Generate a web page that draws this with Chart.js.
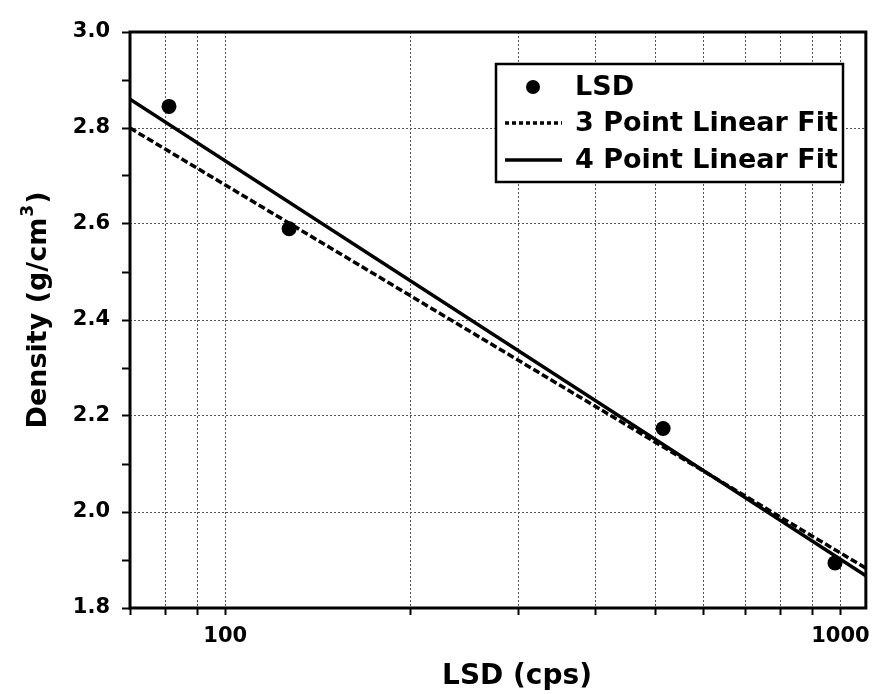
<!DOCTYPE html>
<html>
<head>
<meta charset="utf-8">
<title>Density vs LSD</title>
<script src="https://cdn.jsdelivr.net/npm/chart.js@4.4.1/dist/chart.umd.min.js"></script>
<style>
  html, body { margin: 0; padding: 0; background: #ffffff; }
  #wrap { width: 879px; height: 694px; }
</style>
</head>
<body>
<div id="wrap"><canvas id="chart" width="879" height="694"></canvas></div>
<script>
// Measured LSD count rates (cps) and densities (g/cm^3)
const lsdCps = [81, 127, 515, 980];
const lsdDensity = [2.845, 2.59, 2.174, 1.894];

// Fit lines, evaluated at the ends of the x range
const fitCps = [70, 1100];
const fit3Density = [2.80, 1.883];
const fit4Density = [2.86, 1.867];

// Axis ticks
const xGridValues = [70, 80, 90, 100, 200, 300, 400, 500, 600, 700, 800, 900, 1000];
const xTickLabels = [100, 1000];
const yMajorTicks = [1.8, 2.0, 2.2, 2.4, 2.6, 2.8, 3.0];
const yMinorTicks = [1.9, 2.1, 2.3, 2.5, 2.7, 2.9];

const seriesLabels = ['LSD', '3 Point Linear Fit', '4 Point Linear Fit'];

const FONT = "'DejaVu Sans', 'Liberation Sans', sans-serif";

const isMajorY = v => yMajorTicks.some(t => Math.abs(t - v) < 1e-6);

// Frame, axis titles and the boxed legend
const decorations = {
  id: 'decorations',
  afterDraw(chart) {
    const { ctx, chartArea: a } = chart;
    ctx.save();

    // plot frame
    ctx.strokeStyle = '#000';
    ctx.lineWidth = 3;
    ctx.setLineDash([]);
    ctx.strokeRect(a.left, a.top, a.right - a.left, a.bottom - a.top);

    // x axis title
    ctx.fillStyle = '#000';
    ctx.font = `bold 28px ${FONT}`;
    ctx.textAlign = 'center';
    ctx.textBaseline = 'middle';
    ctx.fillText('LSD (cps)', 517, 677);

    // y axis title with superscript
    ctx.save();
    ctx.translate(36, 310);
    ctx.rotate(-Math.PI / 2);
    const mainFont = `bold 27px ${FONT}`;
    const supFont = `bold 17px ${FONT}`;
    ctx.font = mainFont;
    const w1 = ctx.measureText('Density (g/cm').width;
    const w3 = ctx.measureText(')').width;
    ctx.font = supFont;
    const w2 = ctx.measureText('3').width;
    let x = -(w1 + w2 + w3 + 2) / 2;
    ctx.textAlign = 'left';
    ctx.textBaseline = 'alphabetic';
    ctx.font = mainFont;
    ctx.fillText('Density (g/cm', x, 10);
    x += w1 + 1;
    ctx.font = supFont;
    ctx.fillText('3', x, -3);
    x += w2 + 1;
    ctx.font = mainFont;
    ctx.fillText(')', x, 10);
    ctx.restore();

    // legend box
    const bx = 496, by = 64, bw = 347, bh = 118;
    ctx.fillStyle = '#fff';
    ctx.fillRect(bx, by, bw, bh);
    ctx.strokeStyle = '#000';
    ctx.lineWidth = 2.5;
    ctx.strokeRect(bx, by, bw, bh);

    const rows = [87, 123, 160];
    const ds = chart.data.datasets;
    ctx.font = `bold 27px ${FONT}`;
    ctx.textAlign = 'left';
    ctx.textBaseline = 'middle';
    ds.forEach((d, i) => {
      const y = rows[i];
      ctx.save();
      if (d.showLine === false) {
        ctx.fillStyle = d.pointBackgroundColor;
        ctx.beginPath();
        ctx.arc(533, y, 7, 0, Math.PI * 2);
        ctx.fill();
      } else {
        ctx.strokeStyle = d.borderColor;
        ctx.lineWidth = d.borderWidth;
        ctx.setLineDash(d.borderDash ? d.legendDash : []);
        ctx.beginPath();
        ctx.moveTo(505, y);
        ctx.lineTo(562, y);
        ctx.stroke();
      }
      ctx.restore();
      ctx.fillStyle = '#000';
      ctx.fillText(d.label, 575, y + 1);
    });

    ctx.restore();
  }
};

new Chart(document.getElementById('chart'), {
  type: 'scatter',
  data: {
    datasets: [
      {
        label: seriesLabels[0],
        data: lsdCps.map((c, i) => ({ x: c, y: lsdDensity[i] })),
        showLine: false,
        pointRadius: 7.5,
        pointBackgroundColor: '#000',
        pointBorderWidth: 0,
        order: 0
      },
      {
        label: seriesLabels[1],
        data: fitCps.map((c, i) => ({ x: c, y: fit3Density[i] })),
        showLine: true,
        borderColor: '#000',
        borderWidth: 3.5,
        borderDash: [7, 3],
        legendDash: [4, 3],
        pointRadius: 0,
        order: 1
      },
      {
        label: seriesLabels[2],
        data: fitCps.map((c, i) => ({ x: c, y: fit4Density[i] })),
        showLine: true,
        borderColor: '#000',
        borderWidth: 3.5,
        pointRadius: 0,
        order: 2
      }
    ]
  },
  options: {
    responsive: false,
    animation: false,
    devicePixelRatio: 1,
    layout: { padding: { left: 0, top: 32, right: 11, bottom: 0 } },
    plugins: {
      legend: { display: false },
      tooltip: { enabled: false }
    },
    scales: {
      x: {
        type: 'logarithmic',
        min: 70,
        max: 1100,
        afterBuildTicks: s => { s.ticks = xGridValues.map(v => ({ value: v })); },
        afterFit: s => { s.height = 86; },
        border: { display: false, dash: [2, 2] },
        grid: {
          color: '#555',
          lineWidth: 1,
          tickColor: '#000',
          tickLength: 7,
          tickWidth: 2,
          tickBorderDash: []
        },
        ticks: {
          autoSkip: false,
          maxRotation: 0,
          padding: 9,
          color: '#000',
          font: { family: FONT, size: 21, weight: 'bold' },
          callback: v => (xTickLabels.includes(v) ? String(v) : '')
        }
      },
      y: {
        min: 1.8,
        max: 3.0,
        afterBuildTicks: s => {
          s.ticks = yMajorTicks.concat(yMinorTicks).sort((a, b) => a - b).map(v => ({ value: v }));
        },
        afterFit: s => { s.width = 130; },
        border: { display: false, dash: [2, 2] },
        grid: {
          color: c => (c.tick && isMajorY(c.tick.value) ? '#555' : 'rgba(0,0,0,0)'),
          lineWidth: 1,
          tickColor: '#000',
          tickLength: 8,
          tickWidth: 2,
          tickBorderDash: []
        },
        ticks: {
          autoSkip: false,
          padding: 12,
          color: '#000',
          font: { family: FONT, size: 21, weight: 'bold' },
          callback: v => (isMajorY(v) ? Number(v).toFixed(1) : '')
        }
      }
    }
  },
  plugins: [decorations]
});
</script>
</body>
</html>
